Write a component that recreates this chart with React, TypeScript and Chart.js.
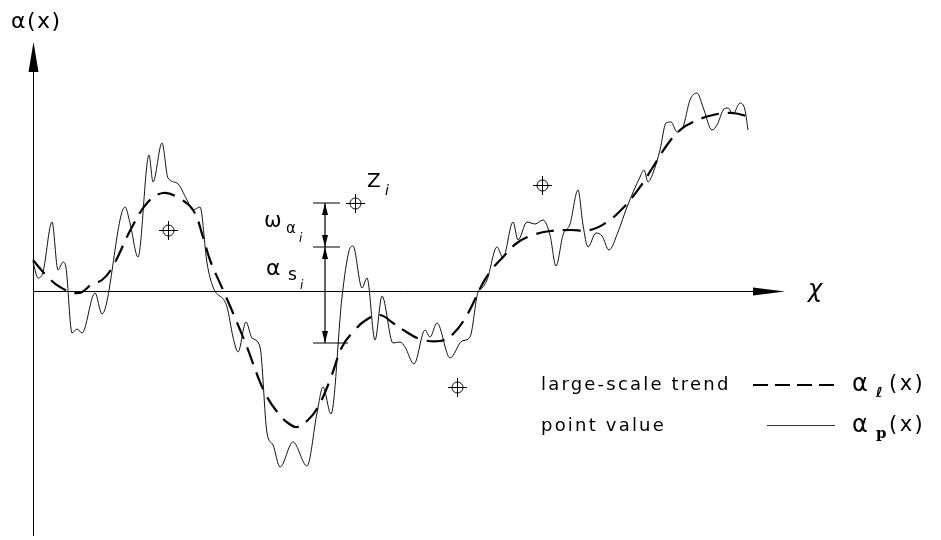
import React, { useEffect, useRef } from "react";
import { Chart, registerables } from "chart.js";
Chart.register(...registerables);

// point value curve alpha_p(x)
const pointX = [0, 5, 10, 19, 25, 30, 33, 39, 44, 49, 62, 69, 92, 97, 105, 116, 120, 129, 135, 144, 154, 160, 167, 174, 180, 194, 200, 205, 213, 219, 227, 234, 240, 247, 260, 274, 284, 290, 298, 309, 316, 320, 329, 334, 342, 349, 360, 367, 372, 381, 392, 397, 404, 417, 429, 437, 445, 449, 454, 464, 470, 480, 485, 494, 502, 510, 517, 523, 530, 537, 545, 550, 555, 563, 569, 576, 585, 594, 607, 611, 615, 620, 627, 633, 638, 644, 650, 657, 664, 670, 679, 684, 691, 695, 700, 707, 712, 715];
const pointY = [29, 13, 19, 69, 21, 29, 23, -42, -38, -42, -2, -23, 84, 68, 34, 136, 109, 148, 113, 108, 91, 81, 84, 28, 4, -16, -46, -61, -31, -47, -56, -142, -154, -176, -151, -175, -122, -96, -123, -6, 40, 45, 3, 13, -49, -5, -52, -51, -56, -73, -39, -46, -32, -67, -50, -46, -1, 3, 11, 44, 33, 69, 51, 69, 67, 71, 56, 25, 56, 67, 101, 66, 44, 58, 55, 41, 59, 84, 114, 121, 109, 118, 141, 168, 169, 159, 164, 191, 198, 184, 161, 166, 182, 183, 177, 188, 181, 161];

// large-scale trend alpha_l(x)
const trendX = [0, 12, 27, 46, 59, 69, 79, 99, 115, 130, 144, 160, 170, 177, 190, 200, 214, 225, 234, 245, 255, 264, 275, 285, 297, 309, 320, 333, 347, 360, 372, 387, 407, 420, 434, 450, 460, 470, 484, 500, 517, 537, 557, 574, 590, 607, 620, 634, 647, 660, 680, 700, 717];
const trendY = [31, 17, 4, -2, 7, 11, 23, 64, 89, 98, 94, 81, 54, 31, 1, -22, -56, -86, -106, -122, -132, -136, -129, -116, -89, -56, -41, -29, -24, -32, -40, -48, -50, -43, -24, 8, 23, 34, 48, 56, 60, 61, 61, 69, 83, 104, 124, 146, 161, 169, 176, 178, 174];

// observations Z
const markerX = [135, 322, 509, 424];
const markerY = [61, 88, 106, -96];

// measurement at Z_i : Z value, alpha_s top, trend value
const measureX = 292;
const measureZ = 88;
const measureS = 44;
const measureL = -52;

// axis extents
const xAxisEnd = 752;
const yAxisTop = 249;
const yAxisBottom = -249;

function makeMarker(): HTMLCanvasElement {
  const c = document.createElement("canvas");
  c.width = 22;
  c.height = 22;
  const g = c.getContext("2d")!;
  g.strokeStyle = "#000";
  g.lineWidth = 1;
  g.beginPath();
  g.arc(11.5, 11.5, 5.5, 0, Math.PI * 2);
  g.moveTo(2, 11.5);
  g.lineTo(21, 11.5);
  g.moveTo(11.5, 2);
  g.lineTo(11.5, 21);
  g.stroke();
  return c;
}

function txt(ctx: CanvasRenderingContext2D, s: string, x: number, y: number, font: string, spacing = "0px", align: CanvasTextAlign = "left") {
  ctx.save();
  ctx.font = font;
  (ctx as any).letterSpacing = spacing;
  ctx.textAlign = align;
  ctx.textBaseline = "middle";
  ctx.fillStyle = "#000";
  ctx.fillText(s, x, y);
  ctx.restore();
}

function arrowHead(ctx: CanvasRenderingContext2D, tx: number, ty: number, dx: number, dy: number, len: number, half: number) {
  const bx = tx - dx * len;
  const by = ty - dy * len;
  const px = -dy;
  const py = dx;
  ctx.beginPath();
  ctx.moveTo(tx, ty);
  ctx.lineTo(bx + px * half, by + py * half);
  ctx.lineTo(bx - px * half, by - py * half);
  ctx.closePath();
  ctx.fill();
}

const decor = {
  id: "decor",
  beforeDatasetsDraw(chart: any) {
    const { ctx } = chart;
    const xs = chart.scales.x;
    const ys = chart.scales.y;
    const ox = Math.round(xs.getPixelForValue(0)) + 0.5;
    const oy = Math.round(ys.getPixelForValue(0)) + 0.5;
    ctx.save();
    ctx.strokeStyle = "#000";
    ctx.fillStyle = "#000";
    ctx.lineWidth = 1;
    const yt = ys.getPixelForValue(yAxisTop);
    ctx.beginPath();
    ctx.moveTo(ox, ys.getPixelForValue(yAxisBottom) - 4);
    ctx.lineTo(ox, yt + 10);
    ctx.stroke();
    arrowHead(ctx, ox, yt, 0, -1, 30, 5);
    const xe = xs.getPixelForValue(xAxisEnd);
    ctx.beginPath();
    ctx.moveTo(ox, oy);
    ctx.lineTo(xe - 10, oy);
    ctx.stroke();
    arrowHead(ctx, xe, oy, 1, 0, 32, 4);
    ctx.restore();
  },
  afterDatasetsDraw(chart: any) {
    const { ctx } = chart;
    const xs = chart.scales.x;
    const ys = chart.scales.y;
    ctx.save();
    ctx.strokeStyle = "#000";
    ctx.fillStyle = "#000";
    ctx.lineWidth = 1.2;
    const mx = xs.getPixelForValue(measureX);
    const yz = ys.getPixelForValue(measureZ);
    const ysv = ys.getPixelForValue(measureS);
    const yl = ys.getPixelForValue(measureL);
    ctx.beginPath();
    ctx.moveTo(mx, yz);
    ctx.lineTo(mx, yl);
    ctx.moveTo(mx - 12, yz);
    ctx.lineTo(mx + 15, yz);
    ctx.moveTo(mx - 12, ysv);
    ctx.lineTo(mx + 15, ysv);
    ctx.moveTo(mx - 12, yl);
    ctx.lineTo(mx + 23, yl);
    ctx.stroke();
    arrowHead(ctx, mx, yz, 0, -1, 12, 3);
    arrowHead(ctx, mx, ysv, 0, 1, 12, 3);
    arrowHead(ctx, mx, ysv, 0, -1, 12, 3);
    arrowHead(ctx, mx, yl, 0, 1, 12, 3);
    ctx.restore();

    const F = "'DejaVu Sans', sans-serif";
    txt(ctx, "α(x)", 11, 22, `22px ${F}`, "1.5px");
    txt(ctx, "χ", xs.getPixelForValue(xAxisEnd) + 30, ys.getPixelForValue(0), `italic 24px ${F}`, "0px", "center");
    // Z_i
    const zx = xs.getPixelForValue(markerX[1]);
    const zy = ys.getPixelForValue(markerY[1]);
    txt(ctx, "Z", zx + 12, zy - 21, `20px ${F}`);
    txt(ctx, "i", zx + 30, zy - 12, `italic 14px ${F}`);
    // omega alpha_i
    const wm = (yz + ysv) / 2;
    txt(ctx, "ω", mx - 61, wm - 3, `21px ${F}`);
    txt(ctx, "α", mx - 39, wm + 4, `15px ${F}`);
    txt(ctx, "i", mx - 26, wm + 14, `italic 12px ${F}`);
    // alpha_s_i
    txt(ctx, "α", mx - 59, ysv + 22, `22px ${F}`);
    txt(ctx, "s", mx - 37, ysv + 29, `17px ${F}`);
    txt(ctx, "i", mx - 25, ysv + 39, `italic 12px ${F}`);

    // legend
    const r1 = 385;
    const r2 = 426;
    txt(ctx, "large-scale trend", 541, r1, `18px ${F}`, "2.2px");
    txt(ctx, "point value", 541, r2, `18px ${F}`, "2.2px");
    ctx.save();
    ctx.strokeStyle = "#000";
    ctx.lineWidth = 2;
    ctx.setLineDash([15, 7]);
    ctx.beginPath();
    ctx.moveTo(753, r1);
    ctx.lineTo(840, r1);
    ctx.stroke();
    ctx.setLineDash([]);
    ctx.lineWidth = 1;
    ctx.strokeStyle = "#333";
    ctx.beginPath();
    ctx.moveTo(767, r2 - 0.5);
    ctx.lineTo(835, r2 - 0.5);
    ctx.stroke();
    ctx.restore();
    txt(ctx, "α", 852, r1, `24px ${F}`);
    txt(ctx, "ℓ", 876, r1 + 8, `italic bold 14px ${F}`);
    txt(ctx, "(x)", 889, r1, `21px ${F}`, "2.5px");
    txt(ctx, "α", 852, r2, `24px ${F}`);
    txt(ctx, "p", 876, r2 + 8, `bold 15px 'DejaVu Serif', serif`);
    txt(ctx, "(x)", 889, r2, `21px ${F}`, "2.5px");
  },
};

export default function App() {
  const ref = useRef<HTMLCanvasElement | null>(null);
  useEffect(() => {
    if (!ref.current) return;
    const marker = makeMarker();
    const chart = new Chart(ref.current, {
      type: "line",
      data: {
        datasets: [
          {
            label: "point value",
            data: pointX.map((x, i) => ({ x, y: pointY[i] })),
            borderColor: "#111",
            borderWidth: 1,
            pointRadius: 0,
            cubicInterpolationMode: "monotone",
            fill: false,
          },
          {
            label: "large-scale trend",
            data: trendX.map((x, i) => ({ x, y: trendY[i] })),
            borderColor: "#000",
            borderWidth: 2.2,
            borderDash: [18, 9],
            pointRadius: 0,
            tension: 0.4,
            fill: false,
          },
          {
            label: "Z",
            data: markerX.map((x, i) => ({ x, y: markerY[i] })),
            showLine: false,
            pointStyle: marker as any,
            pointRadius: 10,
            borderColor: "#000",
          },
        ],
      },
      options: {
        responsive: false,
        animation: false,
        events: [],
        layout: { padding: 0, autoPadding: false },
        plugins: { legend: { display: false }, tooltip: { enabled: false } },
        scales: {
          x: { type: "linear", min: -33, max: 908, display: false },
          y: { type: "linear", min: -249, max: 291, display: false },
        },
      },
      plugins: [decor],
    });
    return () => chart.destroy();
  }, []);
  return (
    <div style={{ position: "absolute", left: 0, top: 0, width: 941, height: 540, background: "#fff" }}>
      <canvas ref={ref} width={941} height={540} style={{ display: "block" }} />
    </div>
  );
}
